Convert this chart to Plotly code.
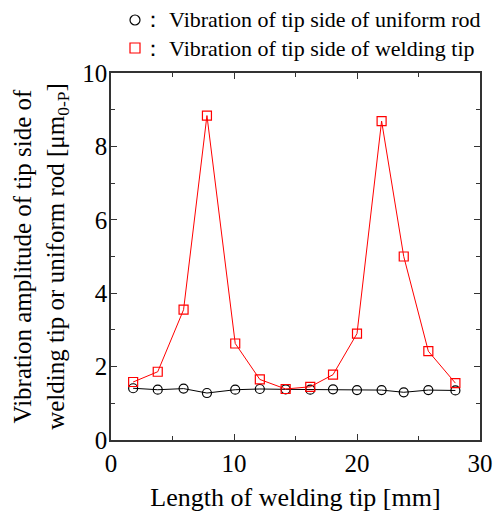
import plotly.graph_objects as go

x_len = [1.8, 3.8, 5.9, 7.8, 10.1, 12.1, 14.2, 16.2, 18.05, 20.0, 22.0, 23.8, 25.8, 28.0]
rod_amp = [1.41, 1.37, 1.40, 1.28, 1.37, 1.39, 1.38, 1.37, 1.38, 1.36, 1.36, 1.30, 1.36, 1.35]
tip_amp = [1.58, 1.86, 3.55, 8.84, 2.63, 1.65, 1.39, 1.45, 1.78, 2.90, 8.69, 5.00, 2.42, 1.55]

rod_name = "： Vibration of tip side of uniform rod"
tip_name = "： Vibration of tip side of welding tip"

FF = "Liberation Serif, Times New Roman, serif"

fig = go.Figure()
fig.add_trace(go.Scatter(x=x_len, y=rod_amp, mode="lines+markers", showlegend=False,
                         name="uniform rod",
                         line=dict(color="black", width=1),
                         marker=dict(symbol="circle-open", size=9, color="black", line=dict(width=1.2))))
fig.add_trace(go.Scatter(x=x_len, y=tip_amp, mode="lines+markers", showlegend=False,
                         name="welding tip",
                         line=dict(color="red", width=1),
                         marker=dict(symbol="square-open", size=9, color="red", line=dict(width=1.2))))

# legend drawn as shapes + annotations (plot area 111..480 x, 73..440 y in pixels)
def px_x(p):
    return (p - 111) / 369.0

def px_y(p):
    return (440 - p) / 367.0

r = 5
fig.add_shape(type="circle", xref="paper", yref="paper",
              x0=px_x(135 - r), x1=px_x(135 + r), y0=px_y(20 + r), y1=px_y(20 - r),
              line=dict(color="black", width=1.2))
fig.add_shape(type="rect", xref="paper", yref="paper",
              x0=px_x(135 - r), x1=px_x(135 + r), y0=px_y(48 + r), y1=px_y(48 - r),
              line=dict(color="red", width=1.2))
fig.add_annotation(x=px_x(140), y=px_y(20), xref="paper", yref="paper", text=rod_name,
                   showarrow=False, xanchor="left", yanchor="middle",
                   font=dict(family=FF, size=22, color="black"))
fig.add_annotation(x=px_x(140), y=px_y(48), xref="paper", yref="paper", text=tip_name,
                   showarrow=False, xanchor="left", yanchor="middle",
                   font=dict(family=FF, size=22, color="black"))

axis_common = dict(showline=True, mirror="ticks", linecolor="#333", linewidth=1.5,
                   ticks="inside", ticklen=6, tickwidth=1, tickcolor="#333",
                   showgrid=False, zeroline=False, automargin=False,
                   tickfont=dict(family=FF, size=25, color="black"))

fig.update_layout(
    width=494, height=512,
    margin=dict(l=111, r=14, t=73, b=72, autoexpand=False),
    paper_bgcolor="white", plot_bgcolor="white",
    font=dict(family=FF, color="black"),
    showlegend=False,
    xaxis=dict(range=[0, 30], dtick=10,
               minor=dict(dtick=5, ticks="inside", ticklen=4, tickcolor="#333"),
               title=dict(text="Length of welding tip [mm]", font=dict(family=FF, size=26), standoff=12),
               **axis_common),
    yaxis=dict(range=[0, 10], dtick=2, ticklabelstandoff=-3,
               minor=dict(dtick=1, ticks="inside", ticklen=4, tickcolor="#333"),
               title=dict(text="Vibration amplitude of tip side of<br>welding tip or uniform rod [μm<sub>0-P</sub>]",
                          font=dict(family=FF, size=25), standoff=11),
               **axis_common),
)

fig.write_html("out.html", config={"displayModeBar": False},
               post_script="document.body.style.margin='0';document.body.style.overflow='hidden';")
